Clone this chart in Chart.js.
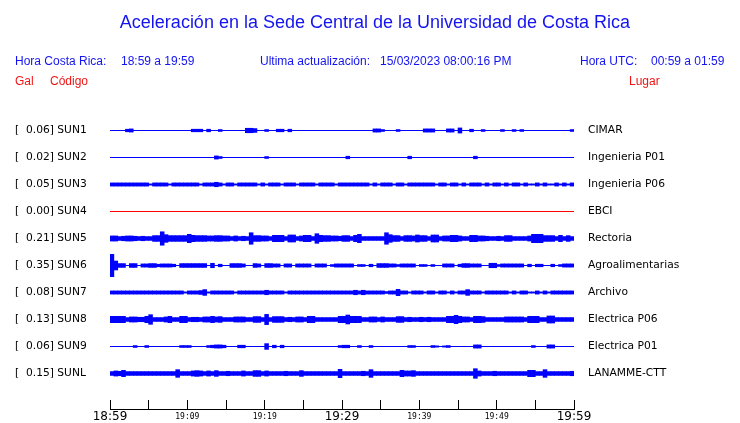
<!DOCTYPE html>
<html><head><meta charset="utf-8">
<script src="https://cdn.jsdelivr.net/npm/chart.js@4"></script>
<style>
body{margin:0;background:#fff}
#wrap{position:relative;width:740px;height:423px;overflow:hidden;background:#fff}
#c{position:absolute;left:0;top:0}
.t{position:absolute;white-space:pre;font-family:"Liberation Sans",Arial,sans-serif;}
.b{color:#1414f0}
.r{color:#f01414}
</style></head><body>
<div id="wrap">
<canvas id="c" width="740" height="423"></canvas>
<div class="t b" style="left:0;width:750px;text-align:center;top:13px;font-size:18px;line-height:18px">Aceleración en la Sede Central de la Universidad de Costa Rica</div>
<div class="t b" style="left:15px;top:55px;font-size:12px;line-height:12px">Hora Costa Rica:</div>
<div class="t b" style="left:121px;top:55px;font-size:12px;line-height:12px">18:59 a 19:59</div>
<div class="t b" style="left:260px;top:55px;font-size:12px;line-height:12px">Ultima actualización:</div>
<div class="t b" style="left:380px;top:55px;font-size:12px;line-height:12px">15/03/2023 08:00:16 PM</div>
<div class="t b" style="left:580px;top:55px;font-size:12px;line-height:12px">Hora UTC:</div>
<div class="t b" style="left:651px;top:55px;font-size:12px;line-height:12px">00:59 a 01:59</div>
<div class="t r" style="left:15px;top:75px;font-size:12px;line-height:12px">Gal</div>
<div class="t r" style="left:50px;top:75px;font-size:12px;line-height:12px">Código</div>
<div class="t r" style="left:629px;top:75px;font-size:12px;line-height:12px">Lugar</div>
</div>
<script>
// ---- data ----
const stations = ['SUN1','SUN2','SUN3','SUN4','SUN5','SUN6','SUN7','SUN8','SUN9','SUNL'];
const peaks    = [0.06, 0.02, 0.05, 0.00, 0.21, 0.35, 0.08, 0.13, 0.06, 0.15];
const places   = ['CIMAR','Ingenieria P01','Ingenieria P06','EBCI','Rectoria','Agroalimentarias','Archivo','Electrica P06','Electrica P01','LANAMME-CTT'];
const xTickLabels = ['18:59','19:09','19:19','19:29','19:39','19:49','19:59'];
// envelope (half amplitude, 0.01 gal) in 30-second bins, 120 bins per hour
const sun1 = [0,0,0,0,4,5,0,0,0,0, 0,0,0,0,0,0,0,0,0,0, 0,4,4,4,0,4,0,0,3,0, 0,0,0,0,0,7,7,6,0,0,
              3,0,0,4,4,0,4,0,0,0, 0,0,0,0,0,0,0,0,0,0, 0,0,0,0,0,0,0,0,5,5, 3,0,0,0,3,0,0,0,0,0,
              0,5,5,5,0,0,0,5,5,0, 8,0,0,4,0,0,3,0,0,0, 0,3,0,0,3,0,3,0,0,0, 0,0,0,0,0,0,0,0,0,3];
const sun2 = [0,0,0,0,0,0,0,0,0,0, 0,0,0,0,0,0,0,0,0,0, 0,0,0,0,0,0,0,5,3,0, 0,0,0,0,0,0,0,0,0,0,
              3,0,0,0,0,0,0,0,0,0, 0,0,0,0,0,0,0,0,0,0, 0,4,0,0,0,0,0,0,0,0, 0,0,0,0,0,0,0,4,0,0,
              0,0,0,0,0,0,0,0,0,0, 0,0,0,0,4,0,0,0,0,0, 0,0,0,0,0,0,0,0,0,0, 0,0,0,0,0,0,0,0,0,0];
const sun3 = [5,5,5,5,5,5,5,5,5,5, 2,5,5,5,5,2,5,5,5,5, 5,5,5,2,5,5,5,7,5,2, 5,5,2,5,5,5,5,5,2,5,
              2,5,5,5,2,5,5,5,2,5, 5,5,5,2,5,5,5,5,2,5, 5,5,5,5,5,5,5,2,5,2, 5,5,5,2,5,5,2,5,5,5,
              5,5,5,5,2,5,5,2,5,5, 2,5,2,5,5,5,2,5,2,5, 5,2,5,2,5,5,2,5,2,2, 5,2,5,2,2,5,2,5,2,5];
const sun4 = [0,0,0,0,0,0,0,0,0,0, 0,0,0,0,0,0,0,0,0,0, 0,0,0,0,0,0,0,0,0,0, 0,0,0,0,0,0,0,0,0,0,
              0,0,0,0,0,0,0,0,0,0, 0,0,0,0,0,0,0,0,0,0, 0,0,0,0,0,0,0,0,0,0, 0,0,0,0,0,0,0,0,0,0,
              0,0,0,0,0,0,0,0,0,0, 0,0,0,0,0,0,0,0,0,0, 0,0,0,0,0,0,0,0,0,0, 0,0,0,0,0,0,0,0,0,0];
const sun5 = [8,8,6,7,8,8,7,6,7,6, 6,9,9,21,12,9,9,9,9,9, 13,10,9,9,9,8,8,9,9,8, 8,6,8,6,7,6,18,9,9,8,
              8,6,10,10,10,6,11,11,6,8, 10,10,6,15,10,9,9,8,8,7, 9,9,6,10,13,6,6,6,6,6, 6,18,12,9,9,6,9,9,8,11,
              9,9,6,11,11,6,8,8,10,10, 8,6,6,10,10,8,8,7,6,6, 7,6,9,9,6,6,6,6,8,13, 13,13,9,9,9,6,10,6,9,6];
const sun6 = [35,14,6,6,0,6,6,0,5,5, 6,6,4,5,5,5,4,0,6,6, 6,6,6,6,6,0,7,0,4,0, 0,6,6,6,5,0,0,6,5,0,
              6,6,5,5,0,5,5,0,5,5, 5,5,0,5,5,5,0,3,5,5, 5,5,5,0,3,3,0,4,0,6, 6,6,5,5,3,5,5,5,5,0,
              3,3,0,3,0,0,5,5,5,0, 4,6,6,5,5,5,0,0,7,7, 3,5,5,5,5,5,5,0,4,0, 4,4,0,0,4,0,3,5,5,5];
const sun7 = [5,5,5,5,5,5,5,5,5,5, 5,5,5,5,5,5,5,5,5,2, 5,5,5,6,9,2,5,5,5,5, 5,5,2,5,5,5,5,5,5,5,
              7,5,5,5,5,2,5,5,5,5, 5,5,5,5,5,5,5,5,5,5, 5,5,5,7,5,7,5,5,5,5, 5,3,5,5,10,5,5,2,5,5,
              5,2,5,5,2,5,5,2,5,2, 5,5,9,5,5,5,2,5,5,5, 5,5,5,2,5,2,5,5,2,2, 5,2,5,2,5,5,5,5,5,5];
const sun8 = [10,10,10,10,6,8,8,7,7,10, 15,6,6,6,8,10,6,6,10,10, 6,7,7,6,8,8,10,8,9,6, 6,6,8,8,8,6,6,9,9,6,
              16,6,9,9,9,6,7,6,8,8, 6,10,10,6,6,6,6,6,6,10, 10,14,10,10,10,6,6,8,8,6, 8,6,6,6,9,9,6,7,6,6,
              7,6,7,6,6,6,6,10,10,13, 10,8,8,6,10,10,9,6,6,6, 6,6,8,8,8,8,8,6,10,10, 10,6,6,11,11,6,6,6,6,6];
const sun9 = [0,0,0,0,0,0,3,0,0,3, 0,0,0,0,0,0,0,0,3,3, 3,0,0,0,0,3,4,5,5,4, 0,0,0,4,4,0,0,0,0,0,
              9,0,4,0,4,0,0,0,0,0, 0,0,0,0,0,0,0,0,0,3, 4,4,0,0,3,0,0,3,0,0, 0,0,0,0,0,0,0,3,3,0,
              0,0,0,3,2,0,2,3,0,0, 0,0,0,0,5,5,0,0,0,0, 0,0,0,0,0,0,0,0,0,3, 0,0,0,5,5,0,0,0,0,0];
const sunl = [6,8,7,10,6,6,6,6,6,6, 6,6,6,6,6,6,6,12,6,6, 6,8,9,8,6,8,6,9,6,6, 7,6,6,6,8,6,6,9,9,6,
              8,6,6,6,6,7,6,6,6,9, 6,6,6,6,6,6,6,6,6,13, 6,6,6,6,6,7,6,12,6,6, 6,6,6,6,6,10,8,8,9,6,
              6,6,6,6,6,6,6,6,6,6, 6,6,6,6,15,8,6,6,6,7, 6,6,6,6,6,6,6,6,10,10, 6,6,12,6,6,6,6,6,6,7];
const envelopes = [sun1, sun2, sun3, sun4, sun5, sun6, sun7, sun8, sun9, sunl];

// ---- presentation ----
const traceColors = ['#0000ff','#0000ff','#0000ff','#ff0000','#0000ff','#0000ff','#0000ff','#0000ff','#0000ff','#0000ff'];
const GAIN = 0.32 / 27;     // rows per 0.01 gal
const BIN_MIN = 0.5;        // minutes per bin
const SHIFT = 0.5 / 27;

const leftLabels = stations.map((s, i) => '[' + peaks[i].toFixed(2).padStart(6) + '] ' + s);

const datasets = [];
envelopes.forEach((env, k) => {
  datasets.push({
    type: 'line',
    data: [{x: 0, y: k}, {x: 60, y: k}],
    borderColor: traceColors[k], borderWidth: 1, pointRadius: 0, tension: 0,
    yAxisID: 'y'
  });
  datasets.push({
    type: 'bar',
    data: env.map((a, i) => ({x: i * BIN_MIN + BIN_MIN / 2, y: [k - a * GAIN, k + a * GAIN]})),
    backgroundColor: traceColors[k], borderWidth: 0,
    barPercentage: 1, categoryPercentage: 1, grouped: false,
    yAxisID: 'y'
  });
});

const rowTicks = (scale) => { scale.ticks = stations.map((_, i) => ({value: i})); };
const yMin = -1 - SHIFT, yMax = 10 + 1/3 - SHIFT;

new Chart(document.getElementById('c'), {
  data: {datasets},
  options: {
    responsive: false, animation: false, devicePixelRatio: 1,
    layout: {padding: {left: 15, top: 103, right: 0, bottom: 0}},
    plugins: {legend: {display: false}, tooltip: {enabled: false}, title: {display: false}},
    scales: {
      x: {
        type: 'linear', position: 'bottom', min: 0, max: 60, offset: false,
        afterFit: (s) => { s.height = 14; },
        border: {display: true, color: '#000', width: 1},
        grid: {display: true, offset: false, drawOnChartArea: false, drawTicks: true, tickLength: -9, color: '#000', tickColor: '#000', tickWidth: 1},
        ticks: {
          stepSize: 5, autoSkip: false, maxRotation: 0, padding: 9.3, color: '#000',
          callback: (v) => (v % 10 === 0 ? xTickLabels[v / 10] : ''),
          font: (ctx) => {
            const v = ctx.tick ? ctx.tick.value : 0;
            return (v % 30 === 0)
              ? {family: 'DejaVu Sans', size: 12, lineHeight: 1.2}
              : {family: 'DejaVu Sans Mono', size: 8, lineHeight: 1.8};
          }
        }
      },
      y: {
        type: 'linear', position: 'left', min: yMin, max: yMax, reverse: true,
        afterFit: (s) => { s.width = 95; },
        afterBuildTicks: rowTicks,
        grid: {display: false}, border: {display: false},
        ticks: {autoSkip: false, crossAlign: 'far', padding: 0, color: '#000',
                font: {family: 'DejaVu Sans', size: 10.7},
                callback: (v) => leftLabels[v]}
      },
      yR: {
        type: 'linear', position: 'right', min: yMin, max: yMax, reverse: true,
        afterFit: (s) => { s.width = 166; },
        afterBuildTicks: rowTicks,
        grid: {display: true, drawOnChartArea: false, drawTicks: true, tickLength: 14, tickColor: 'rgba(0,0,0,0)', color: 'rgba(0,0,0,0)'},
        border: {display: false},
        ticks: {autoSkip: false, crossAlign: 'near', padding: 0, color: '#000',
                font: {family: 'DejaVu Sans', size: 10.7},
                callback: (v) => places[v]}
      }
    }
  }
});
</script>
</body></html>
